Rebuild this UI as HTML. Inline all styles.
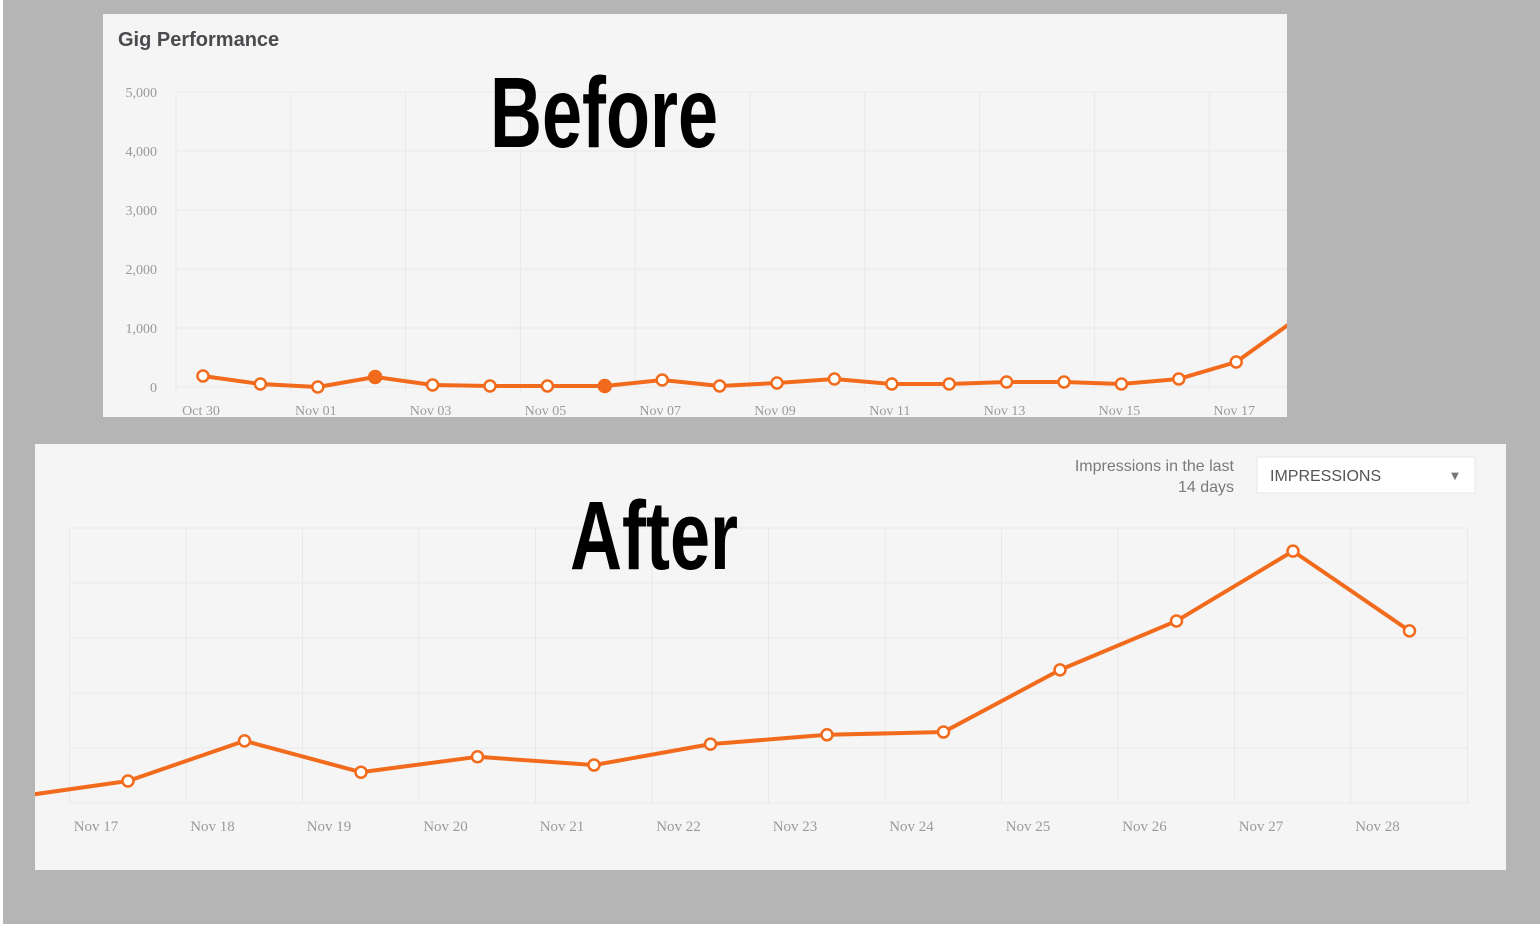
<!DOCTYPE html>
<html><head><meta charset="utf-8"><style>
html,body{margin:0;padding:0;width:1540px;height:927px;overflow:hidden;background:#fff;}
svg{display:block;}
</style></head><body>
<svg id="root" width="1540" height="927" viewBox="0 0 1540 927" xmlns="http://www.w3.org/2000/svg">
<rect x="3" y="0" width="1537" height="924" fill="#b5b5b5"/>
<g>
<rect x="103" y="14" width="1184" height="403" fill="#f5f5f5"/>
<text x="118" y="46" font-family="Liberation Sans, sans-serif" font-weight="bold" font-size="20" fill="#4a4a4f">Gig Performance</text>
<g id="topGrid"></g>
<g id="topAxis"></g>
<g id="topSeries"></g>
<text x="490" y="147" font-family="Liberation Sans Narrow, Liberation Sans, sans-serif" font-weight="bold" font-size="100" textLength="228" lengthAdjust="spacingAndGlyphs" fill="#000">Before</text>
</g>
<g>
<rect x="35" y="444" width="1471" height="426" fill="#f5f5f5"/>
<g id="botGrid"></g>
<g id="botAxis"></g>
<g id="botSeries"></g>
<text x="570" y="569" font-family="Liberation Sans Narrow, Liberation Sans, sans-serif" font-weight="bold" font-size="97" textLength="168" lengthAdjust="spacingAndGlyphs" fill="#000">After</text>
<text x="1234" y="471" text-anchor="end" font-family="Liberation Sans, sans-serif" font-size="16" fill="#7a7a7a">Impressions in the last</text>
<text x="1234" y="492" text-anchor="end" font-family="Liberation Sans, sans-serif" font-size="16" fill="#7a7a7a">14 days</text>
<g>
<rect x="1257" y="457" width="218" height="36" fill="#ffffff" stroke="#e8e8e8"/>
<text x="1270" y="481" font-family="Liberation Sans, sans-serif" font-size="16" fill="#555">IMPRESSIONS</text>
<text x="1455" y="479" text-anchor="middle" font-family="DejaVu Sans, sans-serif" font-size="10" fill="#777">▼</text>
</g>
</g>
</svg>
<script>
const topCategories = ["Oct 30","Oct 31","Nov 01","Nov 02","Nov 03","Nov 04","Nov 05","Nov 06","Nov 07","Nov 08","Nov 09","Nov 10","Nov 11","Nov 12","Nov 13","Nov 14","Nov 15","Nov 16","Nov 17","Nov 18"];
const topValues = [186,51,0,170,34,17,17,17,119,17,68,136,51,51,85,85,51,136,424,1120];
const topFilled = [3,7];
const topYTicks = [0,1000,2000,3000,4000,5000];
const topYTickLabels = ["0","1,000","2,000","3,000","4,000","5,000"];

const botCategories = ["Nov 16","Nov 17","Nov 18","Nov 19","Nov 20","Nov 21","Nov 22","Nov 23","Nov 24","Nov 25","Nov 26","Nov 27","Nov 28"];
const botValues = [10,40,113,56,84,69,107,124,129,242,331,458,313];
const botYTicks = [0,100,200,300,400,500];

const NS="http://www.w3.org/2000/svg";
function mk(tag, attrs, parent){const e=document.createElementNS(NS,tag);for(const k in attrs)e.setAttribute(k,attrs[k]);parent.appendChild(e);return e;}
const ORANGE="#f26b1d";

// TOP chart
(function(){
  const x0=203, step=57.4, yBase=387, yTop=92, yMax=5000;
  const xs=i=>x0+i*step, ys=v=>yBase-(v/yMax)*(yBase-yTop);
  const grid=document.getElementById('topGrid'), axis=document.getElementById('topAxis'), ser=document.getElementById('topSeries');
  topYTicks.forEach((t,i)=>{
    const l=mk('line',{x1:176,x2:1287,y1:ys(t),y2:ys(t),stroke:'#e9e9e9','stroke-width':1},grid);
    
    
    const tx=mk('text',{x:157,y:ys(t)+5,'text-anchor':'end','font-family':'Liberation Serif, serif','font-size':14,fill:'#9a9a9a'},axis);
    tx.textContent=topYTickLabels[i];
    
    
  });
  topCategories.forEach((c,i)=>{
    if(i%2) return;
    const gx=xs(i)-27;
    const l=mk('line',{x1:gx,x2:gx,y1:yTop,y2:yBase+5,stroke:'#e9e9e9','stroke-width':1},grid);
    
    
    if(xs(i)>1270) return;
    const tx=mk('text',{x:xs(i)-2,y:415,'text-anchor':'middle','font-family':'Liberation Serif, serif','font-size':14,fill:'#9a9a9a'},axis);
    tx.textContent=c;
    
    
  });
  const cp=mk('clipPath',{id:'topClip'},ser);
  mk('rect',{x:103,y:14,width:1184,height:403},cp);
  const g=mk('g',{'clip-path':'url(#topClip)'},ser);
  const pts=topValues.map((v,i)=>xs(i)+','+ys(v)).join(' ');
  const pl=mk('polyline',{points:pts,fill:'none',stroke:ORANGE,'stroke-width':4,'stroke-linejoin':'round'},g);
  
  
  topValues.forEach((v,i)=>{
    const f=topFilled.includes(i);
    const c=mk('circle',{cx:xs(i),cy:ys(v),r:f?6:5.5,fill:f?ORANGE:'#fff',stroke:ORANGE,'stroke-width':2.5},g);
    
    
  });
})();

// BOTTOM chart
(function(){
  const x0=11.5, step=116.5, yBase=803, yTop=528, yMax=500;
  const xs=i=>x0+i*step, ys=v=>yBase-(v/yMax)*(yBase-yTop);
  const grid=document.getElementById('botGrid'), axis=document.getElementById('botAxis'), ser=document.getElementById('botSeries');
  botYTicks.forEach(t=>{
    const l=mk('line',{x1:70,x2:1467,y1:ys(t),y2:ys(t),stroke:'#e9e9e9','stroke-width':1},grid);
    
    
  });
  botCategories.forEach((c,i)=>{
    const gx=xs(i)+58;
    const l=mk('line',{x1:gx,x2:gx,y1:yTop,y2:yBase,stroke:'#e9e9e9','stroke-width':1},grid);
    
    
    if(i===0) return;
    const tx=mk('text',{x:xs(i)-32,y:831,'text-anchor':'middle','font-family':'Liberation Serif, serif','font-size':15,fill:'#9a9a9a'},axis);
    tx.textContent=c;
    
    
  });
  const cp=mk('clipPath',{id:'botClip'},ser);
  mk('rect',{x:35,y:444,width:1471,height:426},cp);
  const g=mk('g',{'clip-path':'url(#botClip)'},ser);
  const pts=botValues.map((v,i)=>xs(i)+','+ys(v)).join(' ');
  const pl=mk('polyline',{points:pts,fill:'none',stroke:ORANGE,'stroke-width':4,'stroke-linejoin':'round'},g);
  
  
  botValues.forEach((v,i)=>{
    if(i===0) return;
    const c=mk('circle',{cx:xs(i),cy:ys(v),r:5.5,fill:'#fff',stroke:ORANGE,'stroke-width':2.5},g);
    
    
  });
})();
</script>
</body></html>
